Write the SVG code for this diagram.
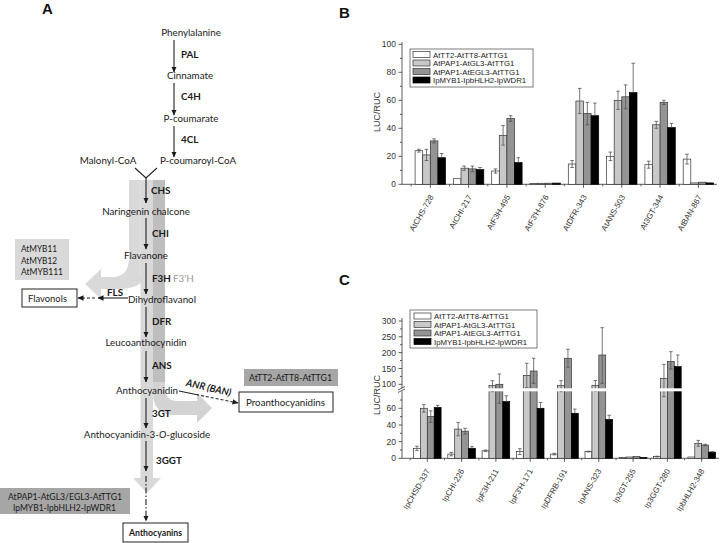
<svg xmlns="http://www.w3.org/2000/svg" width="720" height="543" viewBox="0 0 720 543">
<defs>
<marker id="ah" markerWidth="6" markerHeight="6" refX="5.5" refY="3" orient="auto" markerUnits="userSpaceOnUse"><path d="M0,0.3 L6,3 L0,5.7 z" fill="#1a1a1a"/></marker>
</defs>
<style>
.t{font-family:Lato,"Open Sans",sans-serif;font-size:9.8px;fill:#1a1a1a}
.m{text-anchor:middle}
.b{font-weight:bold}
.pl{font-family:"Liberation Sans",Arial,sans-serif;font-weight:bold;font-size:15px;fill:#111}
.ln{stroke:#222;stroke-width:1.1;fill:none}
.box{fill:#fff;stroke:#222;stroke-width:1}
.ax{stroke:#333;stroke-width:0.8;fill:none}
.tk{font-family:"Liberation Sans",Arial,sans-serif;font-size:8.5px;fill:#333;text-anchor:end}
.xl{font-family:"Liberation Sans",Arial,sans-serif;font-size:8px;fill:#333;text-anchor:end}
.lg{font-family:"Liberation Sans",Arial,sans-serif;font-size:7.8px;fill:#222}
.yl{font-family:"Liberation Sans",Arial,sans-serif;font-size:9px;fill:#333;text-anchor:middle}
.bw{fill:#fff;stroke:#333;stroke-width:0.7}
.bl{fill:#c8c8c8;stroke:#333;stroke-width:0.7}
.bm{fill:#949494;stroke:#333;stroke-width:0.7}
.bk{fill:#000;stroke:#000;stroke-width:0.7}
.eb{stroke:#555;stroke-width:0.8;fill:none}
</style>

<!-- Panel labels -->
<text class="pl" x="42" y="14">A</text>
<text class="pl" x="339" y="18">B</text>
<text class="pl" x="339" y="285">C</text>

<!-- Panel A gray bands -->
<g id="bands">
<path d="M129,180 H150 V258 Q150,289 120,289 H101 V299 L85,284 L101,269 V277 H112 Q129,277 129,258 Z" fill="#d9d9d9"/>
<path d="M153,180 H165 V388 Q165,401 178,401 H197 V393 L212,408 L197,423 V415 H175 Q153,415 153,393 Z" fill="#d3d3d3"/>
<rect x="153" y="180" width="12" height="202" fill="#bebebe"/>
<path d="M140.5,180 H153 V478 H161 L147,493 L133,478 H140.5 Z" fill="#d9d9d9"/>
<line x1="140" y1="180" x2="140" y2="275" stroke="#e8e8e8" stroke-width="0.6"/>
</g>

<!-- Regulator boxes -->
<g id="box-atmyb">
<rect x="15" y="239" width="54" height="41" fill="#d9d9d9"/>
<text class="t" x="21" y="252" textLength="36" lengthAdjust="spacingAndGlyphs">AtMYB11</text>
<text class="t" x="21" y="263.5" textLength="36" lengthAdjust="spacingAndGlyphs">AtMYB12</text>
<text class="t" x="21" y="274.5" textLength="42" lengthAdjust="spacingAndGlyphs">AtMYB111</text>
</g>
<g id="box-attt2">
<rect x="244" y="369" width="94" height="17" fill="#a6a6a6"/>
<text class="t" x="249" y="381" textLength="83" lengthAdjust="spacingAndGlyphs">AtTT2-AtTT8-AtTTG1</text>
</g>
<g id="box-atpap1">
<rect x="0" y="488" width="130" height="26" fill="#a6a6a6"/>
<text class="t" x="8" y="500" textLength="114" lengthAdjust="spacingAndGlyphs">AtPAP1-AtGL3/EGL3-AtTTG1</text>
<text class="t" x="13" y="511" textLength="103" lengthAdjust="spacingAndGlyphs">IpMYB1-IpbHLH2-IpWDR1</text>
</g>

<!-- Product boxes -->
<g id="flavonols">
<rect class="box" x="22" y="289" width="55" height="18"/>
<text class="t" x="28" y="302" textLength="39" lengthAdjust="spacingAndGlyphs">Flavonols</text>
</g>
<g id="proanthocyanidins">
<rect class="box" x="239" y="392" width="94" height="20"/>
<text class="t" x="246" y="406" textLength="79" lengthAdjust="spacingAndGlyphs">Proanthocyanidins</text>
</g>
<g id="anthocyanins">
<rect class="box" x="123" y="523" width="65" height="19"/>
<text class="t b" x="129" y="536" textLength="53" lengthAdjust="spacingAndGlyphs">Anthocyanins</text>
</g>

<!-- Pathway connectors -->
<g id="connectors">
<path class="ln" d="M174,40 V72" marker-end="url(#ah)"/>
<path class="ln" d="M174,83 V115" marker-end="url(#ah)"/>
<path class="ln" d="M174,126 V157" marker-end="url(#ah)"/>
<path class="ln" d="M135,168 L146,178 L157,168"/>
<path class="ln" d="M146,178 V203" marker-end="url(#ah)"/>
<path class="ln" d="M146,218 V249" marker-end="url(#ah)"/>
<path class="ln" d="M146,263 V294" marker-end="url(#ah)"/>
<path class="ln" d="M146,307 V337" marker-end="url(#ah)"/>
<path class="ln" d="M146,351 V382" marker-end="url(#ah)"/>
<path class="ln" d="M146,398 V428" marker-end="url(#ah)"/>
<path class="ln" d="M146,441 V471" marker-end="url(#ah)"/>
<path class="ln" d="M146,476 V521" stroke-dasharray="6,2,1.5,2" marker-end="url(#ah)"/>
<path class="ln" d="M128,298 H98" marker-end="url(#ah)"/>
<path class="ln" d="M95,298 H78" stroke-dasharray="3,2" marker-end="url(#ah)"/>
<path class="ln" d="M179,391 L196,394.5"/>
<path class="ln" d="M196,394.5 L238,403" stroke-dasharray="3,2" marker-end="url(#ah)"/>
</g>

<!-- Pathway texts -->
<g id="pathway-text">
<text class="t m" x="191" y="36">Phenylalanine</text>
<text class="t b" x="181" y="58">PAL</text>
<text class="t m" x="190" y="79">Cinnamate</text>
<text class="t b" x="181" y="100">C4H</text>
<text class="t m" x="191" y="122">P-coumarate</text>
<text class="t b" x="181" y="143">4CL</text>
<text class="t m" x="108" y="164">Malonyl-CoA</text>
<text class="t m" x="198" y="164">P-coumaroyl-CoA</text>
<text class="t b" x="151" y="194">CHS</text>
<text class="t m" x="146" y="215">Naringenin chalcone</text>
<text class="t b" x="152" y="237">CHI</text>
<text class="t m" x="146" y="259">Flavanone</text>
<text class="t b" x="152" y="282">F3H</text>
<text class="t" x="173" y="282" style="fill:#999">F3'H</text>
<text class="t m" x="162" y="303">Dihydroflavanol</text>
<text class="t b" x="107" y="296">FLS</text>
<text class="t b" x="152" y="325">DFR</text>
<text class="t m" x="146" y="346">Leucoanthocynidin</text>
<text class="t b" x="152" y="369">ANS</text>
<text class="t m" x="147" y="394">Anthocyanidin</text>
<text class="t m b" x="208" y="391" transform="rotate(13 208 391)" font-style="italic">ANR (BAN)</text>
<text class="t b" x="152" y="417">3GT</text>
<text class="t m" x="147" y="438">Anthocyanidin-3-<tspan font-style="italic">O</tspan>-glucoside</text>
<text class="t b" x="156" y="464">3GGT</text>
</g>

<!-- Chart B -->
<g id="chart-b">
<text class="yl" x="380" y="112" transform="rotate(-90 380 112)">LUC/RUC</text>
<path class="ax" d="M402,42 V184.3 H717"/>
<path class="ax" d="M398.5,184.3 H402 M398.5,156.3 H402 M398.5,128.3 H402 M398.5,100.3 H402 M398.5,72.3 H402 M398.5,44.3 H402 M400,170.3 H402 M400,142.3 H402 M400,114.3 H402 M400,86.3 H402 M400,58.3 H402"/>
<text class="tk" x="396" y="187.3">0</text>
<text class="tk" x="396" y="159.3">20</text>
<text class="tk" x="396" y="131.3">40</text>
<text class="tk" x="396" y="103.3">60</text>
<text class="tk" x="396" y="75.3">80</text>
<text class="tk" x="396" y="47.3">100</text>
<path class="ax" d="M430.3,184.3 v3.5 M468.6,184.3 v3.5 M506.9,184.3 v3.5 M545.2,184.3 v3.5 M583.5,184.3 v3.5 M621.8,184.3 v3.5 M660.1,184.3 v3.5 M698.4,184.3 v3.5 M411.2,184.3 v2 M449.5,184.3 v2 M487.8,184.3 v2 M526.1,184.3 v2 M564.4,184.3 v2 M602.7,184.3 v2 M641,184.3 v2 M679.3,184.3 v2"/>
<g id="bars-b">
<rect class="bw" x="415.1" y="150.7" width="7.6" height="33.6"/>
<rect class="bl" x="422.7" y="154.9" width="7.6" height="29.4"/>
<rect class="bm" x="430.3" y="140.9" width="7.6" height="43.4"/>
<rect class="bk" x="437.9" y="157.7" width="7.6" height="26.6"/>
<rect class="bw" x="453.4" y="178.7" width="7.6" height="5.6"/>
<rect class="bl" x="461" y="168.2" width="7.6" height="16.1"/>
<rect class="bm" x="468.6" y="168.9" width="7.6" height="15.4"/>
<rect class="bk" x="476.2" y="169.6" width="7.6" height="14.7"/>
<rect class="bw" x="491.7" y="171" width="7.6" height="13.3"/>
<rect class="bl" x="499.3" y="135.3" width="7.6" height="49"/>
<rect class="bm" x="506.9" y="118.5" width="7.6" height="65.8"/>
<rect class="bk" x="514.5" y="162.6" width="7.6" height="21.7"/>
<rect class="bw" x="530" y="183.6" width="7.6" height="0.7"/>
<rect class="bl" x="537.6" y="183.3" width="7.6" height="1"/>
<rect class="bm" x="545.2" y="183.2" width="7.6" height="1.1"/>
<rect class="bk" x="552.8" y="183.1" width="7.6" height="1.2"/>
<rect class="bw" x="568.3" y="164" width="7.6" height="20.3"/>
<rect class="bl" x="575.9" y="101" width="7.6" height="83.3"/>
<rect class="bm" x="583.5" y="113.6" width="7.6" height="70.7"/>
<rect class="bk" x="591.1" y="115.7" width="7.6" height="68.6"/>
<rect class="bw" x="606.6" y="156.3" width="7.6" height="28"/>
<rect class="bl" x="614.2" y="100.3" width="7.6" height="84"/>
<rect class="bm" x="621.8" y="96.8" width="7.6" height="87.5"/>
<rect class="bk" x="629.4" y="92.6" width="7.6" height="91.7"/>
<rect class="bw" x="644.9" y="164.7" width="7.6" height="19.6"/>
<rect class="bl" x="652.5" y="124.8" width="7.6" height="59.5"/>
<rect class="bm" x="660.1" y="102.4" width="7.6" height="81.9"/>
<rect class="bk" x="667.7" y="127.6" width="7.6" height="56.7"/>
<rect class="bw" x="683.2" y="159.1" width="7.6" height="25.2"/>
<rect class="bl" x="690.8" y="182.9" width="7.6" height="1.4"/>
<rect class="bm" x="698.4" y="182.2" width="7.6" height="2.1"/>
<rect class="bk" x="706" y="182.9" width="7.6" height="1.4"/>
</g>
<path class="eb" d="M417.1,149.3h3.6M418.9,149.3V152.1M417.1,152.1h3.6 M424.7,149.3h3.6M426.5,149.3V160.5M424.7,160.5h3.6 M432.3,138.8h3.6M434.1,138.8V143M432.3,143h3.6 M439.9,153.5h3.6M441.7,153.5V157.7 M462,166.1h3.6M464.8,166.1V170.3M462,170.3h3.6 M470.6,166.1h3.6M472.4,166.1V171.7M470.6,171.7h3.6 M478.2,167.5h3.6M480,167.5V169.6 M493.7,168.9h3.6M495.5,168.9V173.1M493.7,173.1h3.6 M501.3,125.5h3.6M503.1,125.5V145.1M501.3,145.1h3.6 M508.9,115.7h3.6M510.7,115.7V121.3M508.9,121.3h3.6 M516.5,157.7h3.6M518.3,157.7V162.6 M570.3,160.5h3.6M572.1,160.5V167.5M570.3,167.5h3.6 M577.9,88.4h3.6M579.7,88.4V113.6M577.9,113.6h3.6 M585.5,102.4h3.6M587.3,102.4V124.8M585.5,124.8h3.6 M593.1,103.1h3.6M594.9,103.1V115.7 M608.6,152.1h3.6M610.4,152.1V160.5M608.6,160.5h3.6 M616.2,91.2h3.6M618,91.2V109.4M616.2,109.4h3.6 M623.8,84.9h3.6M625.6,84.9V108.7M623.8,108.7h3.6 M631.4,63.2h3.6M633.2,63.2V92.6 M646.9,161.2h3.6M648.7,161.2V168.2M646.9,168.2h3.6 M654.5,121.3h3.6M656.3,121.3V128.3M654.5,128.3h3.6 M662.1,100.3h3.6M663.9,100.3V104.5M662.1,104.5h3.6 M669.7,123.4h3.6M671.5,123.4V127.6 M685.2,154.2h3.6M687,154.2V164M685.2,164h3.6"/>
<g id="legend-b">
<rect x="410" y="49" width="123" height="38" fill="#fff" stroke="#444" stroke-width="0.7"/>
<rect class="bw" x="413" y="51.5" width="17" height="6"/>
<rect class="bl" x="413" y="60" width="17" height="6"/>
<rect class="bm" x="413" y="68.5" width="17" height="6"/>
<rect class="bk" x="413" y="77" width="17" height="6"/>
<text class="lg" x="433" y="57.5">AtTT2-AtTT8-AtTTG1</text>
<text class="lg" x="433" y="66">AtPAP1-AtGL3-AtTTG1</text>
<text class="lg" x="433" y="74.5">AtPAP1-AtEGL3-AtTTG1</text>
<text class="lg" x="433" y="83">IpMYB1-IpbHLH2-IpWDR1</text>
</g>
<g id="xlabels-b">
<text class="xl" x="434" y="197" transform="rotate(-60 434 197)">AtCHS-728</text>
<text class="xl" x="472.3" y="197" transform="rotate(-60 472.3 197)">AtCHI-217</text>
<text class="xl" x="510.6" y="197" transform="rotate(-60 510.6 197)">AtF3H-495</text>
<text class="xl" x="548.9" y="197" transform="rotate(-60 548.9 197)">AtF3'H-876</text>
<text class="xl" x="587.2" y="197" transform="rotate(-60 587.2 197)">AtDFR-343</text>
<text class="xl" x="625.5" y="197" transform="rotate(-60 625.5 197)">AtANS-503</text>
<text class="xl" x="663.8" y="197" transform="rotate(-60 663.8 197)">At3GT-344</text>
<text class="xl" x="702.1" y="197" transform="rotate(-60 702.1 197)">AtBAN-867</text>
</g>
</g>

<!-- Chart C -->
<g id="chart-c">
<text class="yl" x="380" y="395" transform="rotate(-90 380 395)">LUC/RUC</text>
<path class="ax" d="M402,318 V458.3 H719"/>
<path class="ax" d="M398.5,458.3 H402 M398.5,441.6 H402 M398.5,425 H402 M398.5,408.3 H402 M400,450 H402 M400,433.3 H402 M400,416.6 H402 M400,400 H402 M398.5,384.3 H402 M398.5,368.5 H402 M398.5,352.6 H402 M398.5,336.8 H402 M398.5,321 H402 M400,376.4 H402 M400,360.5 H402 M400,344.7 H402 M400,328.9 H402"/>
<text class="tk" x="396" y="461.3">0</text>
<text class="tk" x="396" y="444.6">20</text>
<text class="tk" x="396" y="428">40</text>
<text class="tk" x="396" y="411.3">60</text>
<text class="tk" x="396" y="387.3">100</text>
<text class="tk" x="396" y="371.5">150</text>
<text class="tk" x="396" y="355.6">200</text>
<text class="tk" x="396" y="339.8">250</text>
<text class="tk" x="396" y="324">300</text>
<path class="ax" d="M427.3,458.3 v3.5 M461.6,458.3 v3.5 M495.9,458.3 v3.5 M530.2,458.3 v3.5 M564.5,458.3 v3.5 M598.8,458.3 v3.5 M633.1,458.3 v3.5 M667.4,458.3 v3.5 M701.7,458.3 v3.5 M410.2,458.3 v2 M444.5,458.3 v2 M478.8,458.3 v2 M513.1,458.3 v2 M547.4,458.3 v2 M581.7,458.3 v2 M616,458.3 v2 M650.3,458.3 v2 M684.6,458.3 v2"/>
<g id="bars-c">
<rect class="bw" x="413.5" y="448.3" width="6.9" height="10"/>
<rect class="bl" x="420.4" y="408.3" width="6.9" height="50"/>
<rect class="bm" x="427.3" y="416.6" width="6.9" height="41.7"/>
<rect class="bk" x="434.2" y="407.5" width="6.9" height="50.8"/>
<rect class="bw" x="447.8" y="454.1" width="6.9" height="4.2"/>
<rect class="bl" x="454.7" y="429.1" width="6.9" height="29.2"/>
<rect class="bm" x="461.6" y="431.2" width="6.9" height="27.1"/>
<rect class="bk" x="468.5" y="448.3" width="6.9" height="10"/>
<rect class="bw" x="482.1" y="450.8" width="6.9" height="7.5"/>
<rect class="bl" x="489" y="385.6" width="6.9" height="72.7"/>
<rect class="bm" x="495.9" y="384.3" width="6.9" height="74"/>
<rect class="bk" x="502.8" y="401.6" width="6.9" height="56.7"/>
<rect class="bw" x="516.4" y="451.6" width="6.9" height="6.7"/>
<rect class="bl" x="523.3" y="375.4" width="6.9" height="82.9"/>
<rect class="bm" x="530.2" y="371" width="6.9" height="87.3"/>
<rect class="bk" x="537.1" y="408.3" width="6.9" height="50"/>
<rect class="bw" x="550.7" y="454.1" width="6.9" height="4.2"/>
<rect class="bl" x="557.6" y="385.6" width="6.9" height="72.7"/>
<rect class="bm" x="564.5" y="358.3" width="6.9" height="100"/>
<rect class="bk" x="571.4" y="413.3" width="6.9" height="45"/>
<rect class="bw" x="585" y="451.6" width="6.9" height="6.7"/>
<rect class="bl" x="591.9" y="385.3" width="6.9" height="73"/>
<rect class="bm" x="598.8" y="355" width="6.9" height="103.3"/>
<rect class="bk" x="605.7" y="419.5" width="6.9" height="38.8"/>
<rect class="bw" x="619.3" y="457.5" width="6.9" height="0.8"/>
<rect class="bl" x="626.2" y="457" width="6.9" height="1.3"/>
<rect class="bm" x="633.1" y="456.6" width="6.9" height="1.7"/>
<rect class="bk" x="640" y="457.5" width="6.9" height="0.8"/>
<rect class="bw" x="653.6" y="456.6" width="6.9" height="1.7"/>
<rect class="bl" x="660.5" y="378.3" width="6.9" height="80"/>
<rect class="bm" x="667.4" y="361.5" width="6.9" height="96.8"/>
<rect class="bk" x="674.3" y="366.6" width="6.9" height="91.7"/>
<rect class="bw" x="687.9" y="457" width="6.9" height="1.3"/>
<rect class="bl" x="694.8" y="443.3" width="6.9" height="15"/>
<rect class="bm" x="701.7" y="445" width="6.9" height="13.3"/>
<rect class="bk" x="708.6" y="452.1" width="6.9" height="6.2"/>
</g>
<path class="eb" d="M415.2,446.2h3.5M416.95,446.2V450.4M415.2,450.4h3.5 M422.1,404.6h3.5M423.85,404.6V412.1M422.1,412.1h3.5 M429,410.8h3.5M430.75,410.8V422.5M429,422.5h3.5 M435.9,405.4h3.5M437.65,405.4V407.5 M449.5,452.4h3.5M451.25,452.4V455.8M449.5,455.8h3.5 M456.4,422.4h3.5M458.15,422.4V435.8M456.4,435.8h3.5 M463.3,428.3h3.5M465.05,428.3V434.1M463.3,434.1h3.5 M470.2,446.6h3.5M471.95,446.6V448.3 M483.8,450h3.5M485.55,450V451.6M483.8,451.6h3.5 M490.7,380.7h3.5M492.45,380.7V391.7M490.7,391.7h3.5 M497.6,374h3.5M499.35,374V403.3M497.6,403.3h3.5 M504.5,395.8h3.5M506.25,395.8V401.6 M518.1,448.7h3.5M519.85,448.7V454.5M518.1,454.5h3.5 M525,363.3h3.5M526.75,363.3V387.7M525,387.7h3.5 M531.9,358.3h3.5M533.65,358.3V383.3M531.9,383.3h3.5 M538.8,402.5h3.5M540.55,402.5V408.3 M552.4,453.3h3.5M554.15,453.3V454.9M552.4,454.9h3.5 M559.3,380.7h3.5M561.05,380.7V391.7M559.3,391.7h3.5 M566.2,349.3h3.5M567.95,349.3V367.3M566.2,367.3h3.5 M573.1,409.1h3.5M574.85,409.1V413.3 M586.7,451.2h3.5M588.45,451.2V452M586.7,452h3.5 M593.6,380.5h3.5M595.35,380.5V391M593.6,391h3.5 M600.5,327.7h3.5M602.25,327.7V383.3M600.5,383.3h3.5 M607.4,415.3h3.5M609.15,415.3V419.5 M655.3,456.2h3.5M657.05,456.2V457M655.3,457h3.5 M662.2,364.3h3.5M663.95,364.3V396.7M662.2,396.7h3.5 M669.1,351.7h3.5M670.85,351.7V369M669.1,369h3.5 M676,355h3.5M677.75,355V366.6 M696.5,440.4h3.5M698.25,440.4V446.2M696.5,446.2h3.5 M703.4,444.2h3.5M705.15,444.2V445.8M703.4,445.8h3.5 M710.3,451.7h3.5M712.05,451.7V452.1"/>
<rect x="401" y="388.3" width="318" height="3" fill="#fff"/>
<path class="ax" d="M398,390 L405,386.5 M398,392.5 L405,389"/>
<g id="legend-c">
<rect x="410" y="310" width="127" height="38" fill="#fff" stroke="#444" stroke-width="0.7"/>
<rect class="bw" x="414" y="313" width="17" height="6"/>
<rect class="bl" x="414" y="321.5" width="17" height="6"/>
<rect class="bm" x="414" y="330" width="17" height="6"/>
<rect class="bk" x="414" y="338.5" width="17" height="6"/>
<text class="lg" x="434" y="319">AtTT2-AtTT8-AtTTG1</text>
<text class="lg" x="434" y="327.5">AtPAP1-AtGL3-AtTTG1</text>
<text class="lg" x="434" y="336">AtPAP1-AtEGL3-AtTTG1</text>
<text class="lg" x="434" y="344.5">IpMYB1-IpbHLH2-IpWDR1</text>
</g>
<g id="xlabels-c">
<text class="xl" x="430.3" y="471" transform="rotate(-60 430.3 471)">IpCHSD-337</text>
<text class="xl" x="464.6" y="471" transform="rotate(-60 464.6 471)">IpCHI-226</text>
<text class="xl" x="498.9" y="471" transform="rotate(-60 498.9 471)">IpF3H-211</text>
<text class="xl" x="533.2" y="471" transform="rotate(-60 533.2 471)">IpF3'H-171</text>
<text class="xl" x="567.5" y="471" transform="rotate(-60 567.5 471)">IpDFRB-191</text>
<text class="xl" x="601.8" y="471" transform="rotate(-60 601.8 471)">IpANS-323</text>
<text class="xl" x="636.1" y="471" transform="rotate(-60 636.1 471)">Ip3GT-255</text>
<text class="xl" x="670.4" y="471" transform="rotate(-60 670.4 471)">Ip3GGT-280</text>
<text class="xl" x="704.7" y="471" transform="rotate(-60 704.7 471)">IpbHLH2-348</text>
</g>
</g>
</svg>
